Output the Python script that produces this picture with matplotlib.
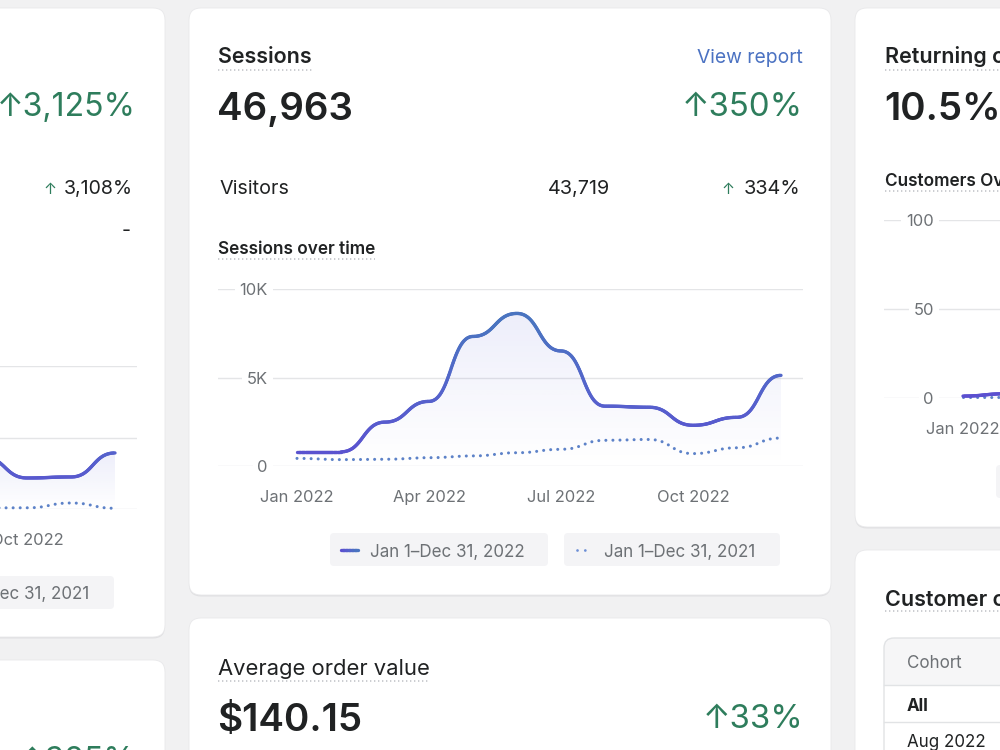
import numpy as np
import matplotlib.pyplot as plt
from matplotlib.patches import FancyBboxPatch, Rectangle
from matplotlib.collections import LineCollection
from matplotlib.colors import LinearSegmentedColormap, to_rgb
from matplotlib.path import Path

plt.rcParams['font.family'] = ['Inter', 'DejaVu Sans']

# ---- data (monthly, 2022 vs 2021) ----
month_idx = list(range(12))
sessions_2022 = [800, 800, 2480, 3650, 7320, 8620, 6500, 3380, 3320, 2300, 2750, 5120]
sessions_2021 = [430, 360, 380, 470, 570, 750, 940, 1450, 1500, 700, 1030, 1580]
session_ticks = [0, 5000, 10000]
session_tick_labels = ['0', '5K', '10K']
xtick_idx = [0, 3, 6, 9]
xtick_labels = ['Jan 2022', 'Apr 2022', 'Jul 2022', 'Oct 2022']

# left card (only the end of the year is on screen)
left_idx = [7, 8, 9, 10, 11]
left_2022 = [380, 364, 217, 224, 392]
left_2021 = [8, 8, 8, 42, 5]
left_ticks = [0, 500, 1000]

# right card "Customers over time"
right_idx = [0, 1]
right_2022 = [1.1, 2.4]
right_2021 = [0.3, 0.3]
right_ticks = [0, 50, 100]
right_tick_labels = ['0', '50', '100']

legend_labels = ['Jan 1\u2013Dec 31, 2022', 'Jan 1\u2013Dec 31, 2021']

# ---- colours ----
INK = '#202223'
SUB = '#6d7175'
GREEN = '#2e7d5c'
LINK = '#4b72c2'
GRID = '#e4e5e7'
PREV = '#5d82c8'
line_cmap = LinearSegmentedColormap.from_list('sess', ['#5b4fd0', '#5562cc', '#4a74c0'])

W, H = 1000, 750
PT = 0.72  # px -> pt at dpi 100
TICK = 16.5

fig = plt.figure(figsize=(10, 7.5), dpi=100)
fig.patch.set_facecolor('#f1f1f2')
bg = fig.add_axes([0, 0, 1, 1])
bg.set_xlim(0, W)
bg.set_ylim(H, 0)
bg.axis('off')


def card(x0, y0, x1, y1):
    bg.add_patch(FancyBboxPatch((x0, y0 + 1.5), x1 - x0, y1 - y0,
                                boxstyle='round,pad=0,rounding_size=12',
                                fc='#dcdcde', ec='none', alpha=0.8, zorder=1))
    bg.add_patch(FancyBboxPatch((x0, y0), x1 - x0, y1 - y0,
                                boxstyle='round,pad=0,rounding_size=12',
                                fc='white', ec='#e8e8ea', lw=0.6, zorder=1.1))


def txt(x, y, s, size, color=INK, weight='normal', ha='left', va='baseline'):
    return bg.text(x, y, s, fontsize=size * PT, color=color, fontweight=weight,
                   ha=ha, va=va, zorder=5)


def left_edge(t):
    r = fig.canvas.get_renderer()
    return bg.transData.inverted().transform((t.get_window_extent(renderer=r).x0, 0))[0]


def underline(t, y):
    r = fig.canvas.get_renderer()
    bb = t.get_window_extent(renderer=r)
    inv = bg.transData.inverted()
    xa = inv.transform((bb.x0, 0))[0]
    xb = inv.transform((bb.x1, 0))[0]
    bg.plot([xa, xb], [y, y], color='#c2c5c9', lw=1.2,
            ls=(0, (0.8, 1.6)), zorder=5)


def bump_points(x, y, n=40):
    # d3 curveBumpX style: horizontal tangent at every point
    verts = [(x[0], y[0])]
    codes = [Path.MOVETO]
    for x0, y0, x1, y1 in zip(x[:-1], y[:-1], x[1:], y[1:]):
        xm = (x0 + x1) / 2
        verts += [(xm, y0), (xm, y1), (x1, y1)]
        codes += [Path.CURVE4] * 3
    path = Path(verts, codes)
    t = np.linspace(0, 1, n)[1:]
    pts = [np.array([verts[0]])]
    for seg, _ in path.iter_bezier():
        if seg.degree == 3:
            pts.append(seg(t))
    return np.vstack(pts)


def chart(left, right, top, bottom, jan_px, ymax, ticks, tick_labels,
          idx, cur, prev, label_right, xt_idx, xt_labels):
    month_px = 44.0
    ax = fig.add_axes([left / W, 1 - bottom / H, (right - left) / W, (bottom - top) / H])
    ax.set_ylim(0, ymax)
    x_lo = -(jan_px - left) / month_px
    ax.set_xlim(x_lo, x_lo + (right - left) / month_px)
    ax.patch.set_alpha(0)
    for s in ax.spines.values():
        s.set_visible(False)
    ax.set_yticks(ticks, tick_labels)
    ax.grid(axis='y', color=GRID, lw=1)
    ax.set_axisbelow(True)
    ax.tick_params(axis='y', length=0, pad=-(label_right - left) * PT,
                   labelsize=TICK * PT, labelcolor=SUB)
    for lab in ax.get_yticklabels():
        lab.set_bbox(dict(fc='white', ec='none', pad=3.5))
    ax.set_xticks(xt_idx, xt_labels)
    ax.tick_params(axis='x', length=0, pad=17.5, labelsize=TICK * PT, labelcolor=SUB)

    c = bump_points(idx, cur)
    p = bump_points(idx, prev)
    # faint gradient fill under current year
    poly = ax.fill_between(c[:, 0], c[:, 1], 0, color='none', lw=0)
    grad = np.zeros((256, 1, 4))
    grad[:, 0, :3] = to_rgb('#5b63d6')
    grad[:, 0, 3] = np.linspace(0.11, 0.0, 256)
    im = ax.imshow(grad, extent=(c[0, 0], c[-1, 0], 0, max(cur)), aspect='auto',
                   origin='upper', zorder=1.5)
    im.set_clip_path(poly.get_paths()[0], transform=ax.transData)
    # previous year dotted
    ax.plot(p[:, 0], p[:, 1], color=PREV, lw=2.2, ls=(0, (0.01, 2.3)),
            dash_capstyle='round', zorder=2, clip_on=False)
    # current year line, colour shifts with height
    segs = np.stack([c[:-1], c[1:]], axis=1)
    lc = LineCollection(segs, cmap=line_cmap, norm=plt.Normalize(0, 0.8 * 10000),
                        lw=2.4, capstyle='round', zorder=3, clip_on=False)
    lc.set_array((c[:-1, 1] + c[1:, 1]) / 2 / ymax * 10000)
    ax.add_collection(lc)
    return ax


def legend(y0, dx):
    boxes = [(330 + dx, 548 + dx), (564 + dx, 780 + dx)]
    for (x0, x1), lab, k in zip(boxes, legend_labels, range(2)):
        bg.add_patch(FancyBboxPatch((x0, y0), x1 - x0, 33,
                                    boxstyle='round,pad=0,rounding_size=4',
                                    fc='#f4f4f6', ec='none', zorder=2))
        if k == 0:
            sx = np.linspace(x0 + 11, x0 + 28, 12)
            segs = np.stack([np.column_stack([sx[:-1], np.full(11, y0 + 16.5)]),
                             np.column_stack([sx[1:], np.full(11, y0 + 16.5)])], axis=1)
            lc = LineCollection(segs, colors=line_cmap(np.linspace(0, 1, 11)),
                                lw=2.4, capstyle='round', zorder=3)
            bg.add_collection(lc)
        else:
            bg.plot([x0 + 13, x0 + 26], [y0 + 16.5, y0 + 16.5], color='#6d8fd6', lw=2.0,
                    ls=(0, (0.01, 2.8)), dash_capstyle='round', zorder=3)
        txt(x0 + 40, y0 + 17, lab, 17, color=SUB, va='center_baseline')


# ---- cards ----
card(-30, 8, 165, 637)
card(-30, 660, 165, 800)
card(189, 8, 831, 595)
card(189, 618, 831, 800)
card(855, 8, 1030, 527)
card(855, 550, 1030, 800)

# ---- left card (mostly off screen) ----
txt(136, 116, '\u2191' + '3,125%', 32, color=GREEN, ha='right')
t = txt(133, 194, '3,108%', 19.5, ha='right')
txt(left_edge(t) - 8, 194, '\u2191', 15.5, color=GREEN, ha='right')
txt(131, 236, '-', 19.5, ha='right')
chart(-448, 137, 366, 509, -369, 1000, left_ticks, ['', '', ''],
      left_idx, left_2022, left_2021, -398, [9], ['Oct 2022'])
legend(576, -666)
txt(136, 770, '\u2191' + '325%', 32, color=GREEN, ha='right')

# ---- centre card: sessions ----
t = txt(218, 63, 'Sessions', 21.5, weight='semibold')
underline(t, 70)
txt(803, 63, 'View report', 19.3, color=LINK, ha='right')
txt(217, 120, '46,963', 38.5, weight='semibold')
txt(803, 116, '\u2191' + '350%', 33, color=GREEN, ha='right')
txt(219, 194, 'Visitors', 19.8)
txt(610, 194, '43,719', 19.8, ha='right')
t = txt(800, 194, '334%', 19.8, ha='right')
txt(left_edge(t) - 9, 194, '\u2191', 15.5, color=GREEN, ha='right')
t = txt(218, 254, 'Sessions over time', 17.2, weight='semibold')
underline(t, 259)
chart(218, 803, 289, 466, 297, 10000, session_ticks, session_tick_labels,
      month_idx, sessions_2022, sessions_2021, 268, xtick_idx, xtick_labels)
legend(533, 0)

# ---- centre card: average order value ----
t = txt(218, 675, 'Average order value', 22)
underline(t, 681)
txt(217, 731, '$140.15', 38.5, weight='semibold')
txt(803, 728, '\u2191' + '33%', 33, color=GREEN, ha='right')

# ---- right card: returning customers ----
t = txt(885, 63, 'Returning customer rate', 21.5, weight='semibold')
underline(t, 70)
txt(884, 120, '10.5%', 38.5, weight='semibold')
t = txt(885, 186, 'Customers Over Time', 17.2, weight='semibold')
underline(t, 191)
chart(884, 1469, 220, 398, 963, 100, right_ticks, right_tick_labels,
      right_idx, right_2022, right_2021, 934, [0], ['Jan 2022'])
legend(465, 666)

# ---- right card: cohort table ----
t = txt(885, 606, 'Customer cohort analysis', 21.5, weight='semibold')
underline(t, 611)
bg.add_patch(FancyBboxPatch((884, 638), 200, 47, boxstyle='round,pad=0,rounding_size=10',
                            fc='#f6f6f7', ec='none', zorder=2))
bg.add_patch(Rectangle((884, 660), 200, 25, fc='#f6f6f7', ec='none', zorder=2))
bg.add_patch(FancyBboxPatch((884, 638), 200, 200, boxstyle='round,pad=0,rounding_size=10',
                            fc='none', ec='#e1e3e5', lw=1, zorder=3))
bg.plot([884, 1000], [685, 685], color='#e1e3e5', lw=1, zorder=3)
bg.plot([884, 1000], [722, 722], color='#e1e3e5', lw=1, zorder=3)
txt(907, 668, 'Cohort', 17, color=SUB)
txt(907, 711, 'All', 17, weight='bold')
txt(907, 747, 'Aug 2022', 17)

fig.savefig('out.png', dpi=100, facecolor=fig.get_facecolor())
